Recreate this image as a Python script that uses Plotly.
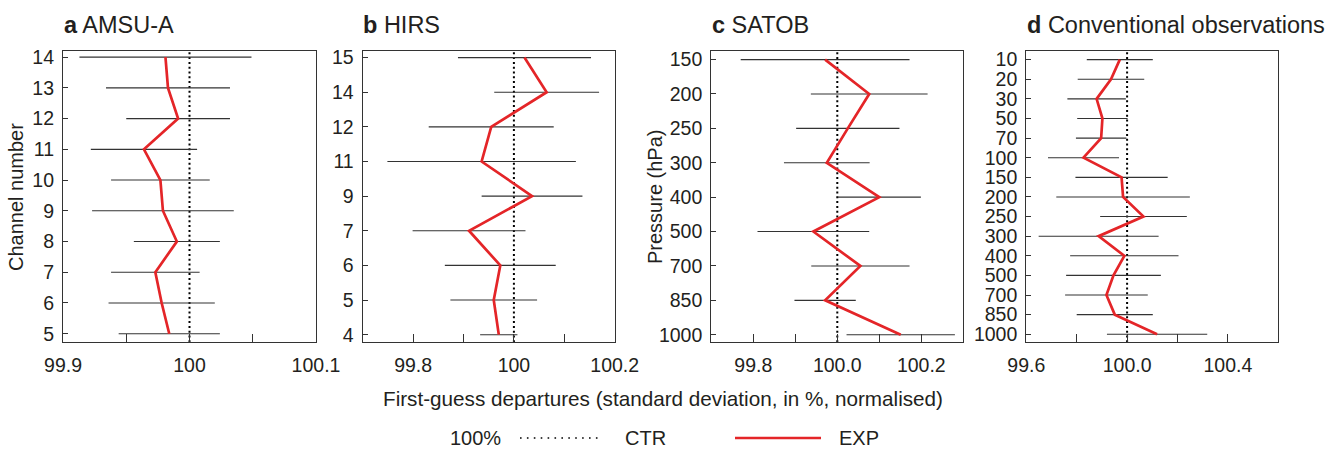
import plotly.graph_objects as go

# ---------------- data ----------------
# AMSU-A channels (bottom to top)
amsu_channels = [5, 6, 7, 8, 9, 10, 11, 12, 13, 14]
amsu_exp = [99.984, 99.978, 99.973, 99.990, 99.979, 99.977, 99.964, 99.991, 99.983, 99.981]
amsu_ci = [0.040, 0.042, 0.035, 0.034, 0.056, 0.039, 0.042, 0.041, 0.049, 0.068]

# HIRS channels (bottom to top)
hirs_channels = ["4", "5", "6", "7", "9", "11", "12", "14", "15"]
hirs_exp = [99.970, 99.960, 99.973, 99.911, 100.036, 99.936, 99.955, 100.065, 100.021]
hirs_ci = [0.037, 0.086, 0.110, 0.112, 0.100, 0.187, 0.124, 0.104, 0.132]

# SATOB pressure levels, hPa (bottom to top)
satob_levels = ["1000", "850", "700", "500", "400", "300", "250", "200", "150"]
satob_exp = [100.151, 99.971, 100.055, 99.943, 100.100, 99.975, 100.025, 100.076, 99.971]
satob_ci = [0.129, 0.073, 0.117, 0.133, 0.099, 0.102, 0.123, 0.139, 0.201]

# Conventional observations, pressure levels hPa (bottom to top)
conv_levels = ["1000", "850", "700", "500", "400", "300", "250", "200", "150",
               "100", "70", "50", "30", "20", "10"]
conv_exp = [100.119, 99.951, 99.918, 99.946, 99.989, 99.887, 100.065, 99.984, 99.978,
            99.827, 99.897, 99.902, 99.879, 99.936, 99.971]
conv_ci = [0.199, 0.151, 0.164, 0.188, 0.215, 0.238, 0.172, 0.265, 0.183,
           0.141, 0.100, 0.100, 0.116, 0.132, 0.131]

# x-axis ticks per panel
amsu_xticks = [99.9, 99.95, 100, 100.05, 100.1]
amsu_xlabels = ["99.9", "", "100", "", "100.1"]
hirs_xticks = [99.8, 99.9, 100, 100.1, 100.2]
hirs_xlabels = ["99.8", "", "100", "", "100.2"]
satob_xticks = [99.7, 99.8, 99.9, 100.0, 100.1, 100.2, 100.3]
satob_xlabels = ["", "99.8", "", "100.0", "", "100.2", ""]
conv_xticks = [99.6, 99.8, 100.0, 100.2, 100.4, 100.6]
conv_xlabels = ["99.6", "", "100.0", "", "100.4", ""]

titles = ["<b>a</b> AMSU-A", "<b>b</b> HIRS", "<b>c</b> SATOB", "<b>d</b> Conventional observations"]

# ---------------- styling ----------------
W, H = 1335, 449
FONT = "Liberation Sans, Arial, Helvetica, sans-serif"
TEXT = "#231f20"
AXIS = "#333333"
BAR = "#333333"
RED = "#e42528"

# plot frames in pixels: (left, right)
frames_px = [(63, 316), (362.7, 614.7), (711.3, 963.3), (1026.3, 1278.3)]
top_px, bottom_px = 51, 342.3

panels = [
    dict(y=amsu_channels, exp=amsu_exp, ci=amsu_ci, xr=[99.9, 100.1],
         xt=amsu_xticks, xl=amsu_xlabels, yr=[4.72, 14.2], cat=False),
    dict(y=hirs_channels, exp=hirs_exp, ci=hirs_ci, xr=[99.7, 100.2],
         xt=hirs_xticks, xl=hirs_xlabels, yr=[-0.22, 8.19], cat=True),
    dict(y=satob_levels, exp=satob_exp, ci=satob_ci, xr=[99.7, 100.3],
         xt=satob_xticks, xl=satob_xlabels, yr=[-0.22, 8.25], cat=True),
    dict(y=conv_levels, exp=conv_exp, ci=conv_ci, xr=[99.6, 100.6],
         xt=conv_xticks, xl=conv_xlabels, yr=[-0.41, 14.44], cat=True),
]

fig = go.Figure()
layout = {}
ydom = [1 - bottom_px / H, 1 - top_px / H]

for i, p in enumerate(panels):
    n = "" if i == 0 else str(i + 1)
    xa, ya = "x" + n, "y" + n

    # confidence ranges around the EXP values
    fig.add_trace(go.Scatter(
        x=p["exp"], y=p["y"], xaxis=xa, yaxis=ya, mode="markers",
        marker=dict(size=1, color="rgba(0,0,0,0)"),
        error_x=dict(type="data", array=p["ci"], symmetric=True, width=0,
                     thickness=1.1, color=BAR),
        showlegend=False, hoverinfo="skip"))
    # EXP profile
    fig.add_trace(go.Scatter(
        x=p["exp"], y=p["y"], xaxis=xa, yaxis=ya, mode="lines",
        line=dict(color=RED, width=2.7), showlegend=False))
    # CTR reference at 100 %
    fig.add_shape(type="line", xref=xa, yref=ya + " domain", x0=100, x1=100,
                  y0=0, y1=1, layer="below",
                  line=dict(color="black", width=2, dash="2px,2.8px"))

    l, r = frames_px[i]
    common = dict(showline=True, mirror=True, linecolor=AXIS, linewidth=1.2,
                  showgrid=False, zeroline=False, ticks="inside", tickcolor=AXIS,
                  tickwidth=1, automargin=False,
                  tickfont=dict(size=19.5, color=TEXT, family=FONT))
    layout["xaxis" + n] = dict(domain=[l / W, r / W], range=p["xr"], anchor=ya,
                               tickmode="array", tickvals=p["xt"], ticktext=p["xl"],
                               ticklen=8, ticklabelstandoff=5, **common)
    yax = dict(domain=ydom, range=p["yr"], anchor=xa, ticklen=5,
               tickmode="array", tickvals=p["y"], ticklabelstandoff=4, **common)
    if p["cat"]:
        yax.update(type="category", categoryorder="array", categoryarray=p["y"])
    layout["yaxis" + n] = yax

annotations = []
# panel titles
for i, t in enumerate(titles):
    annotations.append(dict(text=t, x=(frames_px[i][0] - 1.5) / W, y=1 - 25 / H,
                            xref="paper", yref="paper", xanchor="left", yanchor="middle",
                            showarrow=False, font=dict(size=23.5, color=TEXT, family=FONT)))
# y-axis titles
for txt, xc in [("Channel number", 16), ("Pressure (hPa)", 655)]:
    annotations.append(dict(text=txt, x=xc / W, y=1 - 197 / H, xref="paper",
                            yref="paper", xanchor="center", yanchor="middle",
                            textangle=-90, showarrow=False,
                            font=dict(size=20, color=TEXT, family=FONT)))
# shared x-axis title
annotations.append(dict(text="First-guess departures (standard deviation, in %, normalised)",
                        x=663.4 / W, y=1 - 398 / H, xref="paper", yref="paper",
                        xanchor="center", yanchor="middle",
                        showarrow=False, font=dict(size=20.7, color=TEXT, family=FONT)))
# key
leg_y = 1 - 438 / H
for txt, xpx in [("100%", 448.3), ("CTR", 622.7), ("EXP", 837)]:
    annotations.append(dict(text=txt, x=xpx / W, y=leg_y, xref="paper", yref="paper",
                            xanchor="left", yanchor="middle", showarrow=False,
                            font=dict(size=20, color=TEXT, family=FONT)))
fig.add_shape(type="line", xref="paper", yref="paper", x0=520 / W, x1=602 / W,
              y0=leg_y, y1=leg_y, line=dict(color="black", width=1.6, dash="1.6px,5.3px"))
fig.add_shape(type="line", xref="paper", yref="paper", x0=735 / W, x1=821 / W,
              y0=leg_y, y1=leg_y, line=dict(color=RED, width=2.7))

fig.update_layout(width=W, height=H, margin=dict(l=0, r=0, t=0, b=0, autoexpand=False),
                  paper_bgcolor="white", plot_bgcolor="white", showlegend=False,
                  font=dict(family=FONT, color=TEXT), annotations=annotations,
                  **layout)

fig.write_html("out.html")
